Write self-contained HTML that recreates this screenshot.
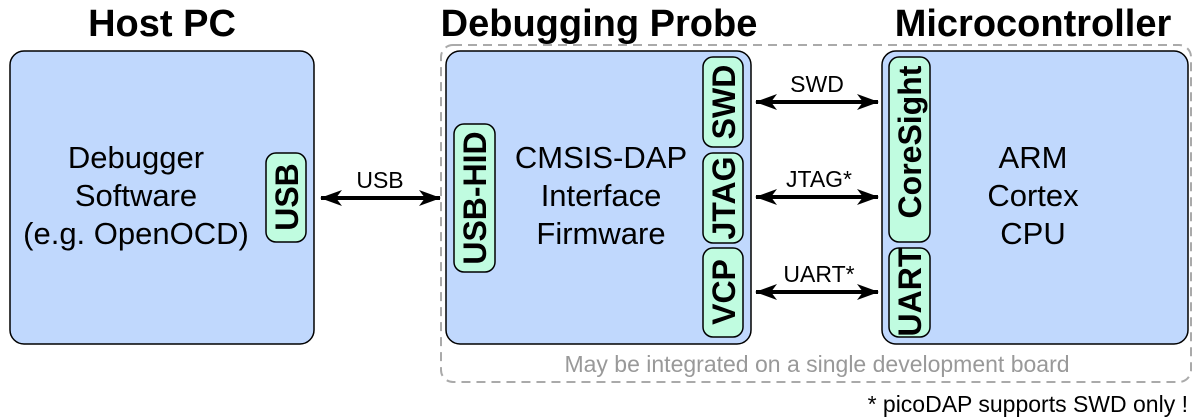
<!DOCTYPE html>
<html><head><meta charset="utf-8"><style>
html,body{margin:0;padding:0;background:#fff;}
svg{display:block;font-family:"Liberation Sans",sans-serif;}
</style></head><body>
<svg width="1200" height="420" viewBox="0 0 1200 420" xmlns="http://www.w3.org/2000/svg">
<defs>
<marker id="ah" viewBox="0 0 22 16" refX="21" refY="8" markerWidth="22" markerHeight="16" markerUnits="userSpaceOnUse" orient="auto-start-reverse">
<path d="M0,0 L22,8 L0,16 L6,8 Z" fill="#000"/>
</marker>
</defs>
<g font-weight="bold" font-size="38" text-anchor="middle" fill="#000">
<text x="162" y="36">Host PC</text>
<text x="599" y="36">Debugging Probe</text>
<text x="1033" y="36">Microcontroller</text>
</g>
<rect x="441" y="45" width="750" height="337" rx="12" fill="none" stroke="#aaa" stroke-width="2" stroke-dasharray="9,6"/>
<rect x="10" y="51" width="304" height="293" rx="14" fill="#c0d8fd" stroke="#000" stroke-width="1.5"/>
<g font-size="31" text-anchor="middle" fill="#000">
<text x="136" y="168">Debugger</text>
<text x="136" y="206">Software</text>
<text x="136" y="244">(e.g. OpenOCD)</text>
</g>
<rect x="266" y="153" width="40" height="89" rx="10" fill="#c0fce0" stroke="#000" stroke-width="1.5"/>
<rect x="446" y="51" width="305" height="293" rx="14" fill="#c0d8fd" stroke="#000" stroke-width="1.5"/>
<g font-size="31" text-anchor="middle" fill="#000">
<text x="601" y="168">CMSIS-DAP</text>
<text x="601" y="206">Interface</text>
<text x="601" y="244">Firmware</text>
</g>
<rect x="454" y="124" width="41" height="148" rx="10" fill="#c0fce0" stroke="#000" stroke-width="1.5"/>
<rect x="703" y="57" width="40" height="90" rx="10" fill="#c0fce0" stroke="#000" stroke-width="1.5"/>
<rect x="703" y="153" width="40" height="90" rx="10" fill="#c0fce0" stroke="#000" stroke-width="1.5"/>
<rect x="703" y="248" width="40" height="89" rx="10" fill="#c0fce0" stroke="#000" stroke-width="1.5"/>
<rect x="882" y="51" width="306" height="293" rx="14" fill="#c0d8fd" stroke="#000" stroke-width="1.5"/>
<g font-size="31" text-anchor="middle" fill="#000">
<text x="1033" y="168">ARM</text>
<text x="1033" y="206">Cortex</text>
<text x="1033" y="244">CPU</text>
</g>
<rect x="889" y="57" width="41" height="185" rx="10" fill="#c0fce0" stroke="#000" stroke-width="1.5"/>
<rect x="889" y="248" width="41" height="89" rx="10" fill="#c0fce0" stroke="#000" stroke-width="1.5"/>
<g font-size="32" font-weight="bold" text-anchor="middle" fill="#000">
<text transform="translate(298,197) rotate(-90)">USB</text>
<text transform="translate(486,198) rotate(-90)">USB-HID</text>
<text transform="translate(735,102) rotate(-90)">SWD</text>
<text transform="translate(735,198) rotate(-90)">JTAG</text>
<text transform="translate(735,292) rotate(-90)">VCP</text>
<text transform="translate(921,142) rotate(-90)">CoreSight</text>
<text transform="translate(921,292) rotate(-90)">UART</text>
</g>
<g stroke="#000" stroke-width="4" fill="none">
<line x1="321" y1="198" x2="440" y2="198" marker-start="url(#ah)" marker-end="url(#ah)"/>
<line x1="756" y1="102" x2="878" y2="102" marker-start="url(#ah)" marker-end="url(#ah)"/>
<line x1="756" y1="197" x2="878" y2="197" marker-start="url(#ah)" marker-end="url(#ah)"/>
<line x1="756" y1="292" x2="878" y2="292" marker-start="url(#ah)" marker-end="url(#ah)"/>
</g>
<g font-size="23" text-anchor="middle" fill="#000">
<text x="380" y="188">USB</text>
<text x="817" y="92">SWD</text>
<text x="819" y="187">JTAG*</text>
<text x="819" y="282">UART*</text>
</g>
<text x="817" y="372" font-size="23" text-anchor="middle" fill="#999">May be integrated on a single development board</text>
<text x="1188" y="412" font-size="23" text-anchor="end" fill="#000">* picoDAP supports SWD only !</text>
</svg>
</body></html>
